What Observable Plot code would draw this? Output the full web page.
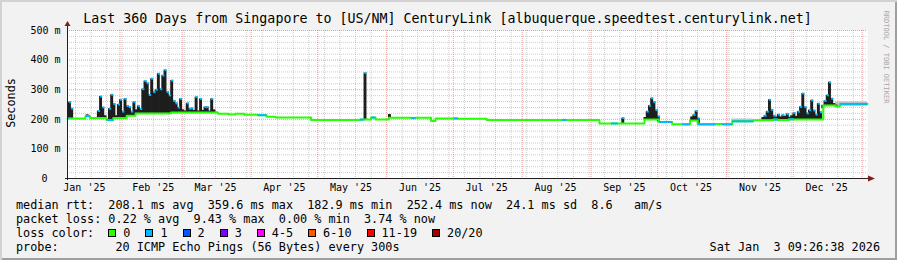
<!DOCTYPE html>
<html><head><meta charset="utf-8">
<script src="https://cdn.jsdelivr.net/npm/d3@7"></script>
<script src="https://cdn.jsdelivr.net/npm/@observablehq/plot@0.6"></script>
<style>
html,body{margin:0;padding:0;background:#f2f2f2;}
#wrap{position:relative;width:897px;height:260px;background:#f2f2f2;overflow:hidden;
  box-shadow: inset 2px 2px 0 #d2d2d2, inset -2px -2px 0 #9e9e9e;
  font-family:"DejaVu Sans Mono",monospace;color:#000;}
#chart{position:absolute;left:0;top:0;}
.txt{position:absolute;white-space:pre;font-size:11.8px;line-height:14px;}
#title{position:absolute;left:-1px;top:11px;width:897px;text-align:center;font-size:13.3px;line-height:16px;white-space:pre;}
#ylab{position:absolute;left:-39px;top:96px;width:100px;text-align:center;font-size:11.8px;line-height:14px;transform:rotate(-90deg);}
#wm{position:absolute;left:826px;top:53px;width:120px;text-align:center;font-size:7px;line-height:8px;color:#a8a8a8;transform:rotate(90deg);white-space:pre;}
.sw{display:inline-block;width:6px;height:6px;border:1px solid #000;margin-right:7px;vertical-align:baseline;}
.lb{margin-right:15px;}
</style></head>
<body>
<div id="wrap">
  <div id="chart"></div>
  <div id="title"></div>
  <div id="ylab">Seconds</div>
  <div id="wm">RRDTOOL / TOBI OETIKER</div>
  <div class="txt" id="l1" style="left:16px;top:198px"></div>
  <div class="txt" id="l2" style="left:16px;top:212px"></div>
  <div class="txt" id="l3" style="left:16px;top:226px"></div>
  <div class="txt" id="l4" style="left:16px;top:240px"></div>
  <div class="txt" id="l5" style="right:17px;top:240px"></div>
</div>
<script>
// ---------- data ----------
const titleText = "Last 360 Days from Singapore to [US/NM] CenturyLink [albuquerque.speedtest.centurylink.net]";
const rangeStart = "2025-01-08T09:26:38";
const rangeEnd = "2026-01-03T09:26:38";

const yTicks = [0, 100, 200, 300, 400, 500];
const yTickLabels = ["0", "100 m", "200 m", "300 m", "400 m", "500 m"];
const monthLabelDates = ["2025-01-16","2025-02-16","2025-03-16","2025-04-16","2025-05-16","2025-06-16","2025-07-16","2025-08-16","2025-09-16","2025-10-16","2025-11-16","2025-12-16"];
const monthLabels = ["Jan '25","Feb '25","Mar '25","Apr '25","May '25","Jun '25","Jul '25","Aug '25","Sep '25","Oct '25","Nov '25","Dec '25"];

const lossLabels = ["0","1","2","3","4-5","6-10","11-19","20/20"];
const lossColors = ["#26ff00","#00b8ff","#0059ff","#7e00ff","#ff00ff","#ff5500","#ff0000","#a10000"];

// median rtt, step segments (start, value in ms, loss class)
const medStart = ["2025-01-08T09:26","2025-01-09T00:00","2025-01-16T12:00","2025-01-18T12:00","2025-01-26T00:00","2025-01-29T00:00","2025-02-04T00:00","2025-02-08T00:00","2025-02-24T00:00","2025-03-17T00:00","2025-03-22T00:00","2025-03-25T00:00","2025-03-29T00:00","2025-04-04T00:00","2025-04-08T00:00","2025-04-12T00:00","2025-04-28T00:00","2025-05-20T00:00","2025-05-22T00:00","2025-05-25T00:00","2025-05-27T00:00","2025-06-02T00:00","2025-06-12T00:00","2025-06-14T00:00","2025-06-21T00:00","2025-06-23T00:00","2025-07-01T00:00","2025-07-03T00:00","2025-07-16T00:00","2025-08-19T00:00","2025-08-21T00:00","2025-09-04T18:00","2025-09-10T00:00","2025-09-13T00:00","2025-09-25T00:00","2025-10-01T12:00","2025-10-07T12:00","2025-10-12T00:00","2025-10-15T12:00","2025-10-19T00:00","2025-10-27T00:00","2025-10-30T00:00","2025-11-03T12:00","2025-11-13T00:00","2025-11-22T00:00","2025-11-24T00:00","2025-11-29T00:00","2025-12-01T00:00","2025-12-14T12:00","2025-12-20T00:00","2025-12-22T00:00"];
const medValue = [203,203,211,204,198,204,212,220,223,219,216,219,215,214,209,206,198,199,199,206,199,205,204,205,194,203,203,202,198,198,198,186,186,186,199,191,183,183,196,183,184,183,193,197,199,198,200,199,247,243,252];
const medLoss  = [1,0,1,0,1,0,0,0,0,0,0,0,0,1,0,0,0,1,0,1,0,0,1,0,0,0,1,0,0,1,0,0,1,0,0,1,0,1,0,1,0,1,1,0,1,0,1,0,0,0,1];

// daily smoke tops (ms)
const spikeDays = ["2025-01-09","2025-01-10","2025-01-17","2025-01-22","2025-01-23","2025-01-24","2025-01-25","2025-01-27","2025-01-28","2025-01-29","2025-01-30","2025-01-31",
 "2025-02-01","2025-02-02","2025-02-03","2025-02-04","2025-02-05","2025-02-06","2025-02-07","2025-02-08","2025-02-09","2025-02-10","2025-02-11","2025-02-12","2025-02-13","2025-02-14","2025-02-15","2025-02-16","2025-02-17","2025-02-18","2025-02-19","2025-02-20","2025-02-21","2025-02-22","2025-02-23","2025-02-24","2025-02-25","2025-02-26","2025-02-27","2025-02-28",
 "2025-03-01","2025-03-02","2025-03-03","2025-03-04","2025-03-05","2025-03-06","2025-03-07","2025-03-08","2025-03-09","2025-03-10","2025-03-11","2025-03-12","2025-03-13","2025-03-14","2025-03-15","2025-03-16",
 "2025-05-22","2025-06-02","2025-09-15",
 "2025-09-25","2025-09-26","2025-09-27","2025-09-28","2025-09-29","2025-09-30","2025-10-01",
 "2025-10-16","2025-10-17","2025-10-18","2025-10-19",
 "2025-11-17","2025-11-18","2025-11-19","2025-11-20","2025-11-21","2025-11-22","2025-11-23","2025-11-24","2025-11-25","2025-11-26","2025-11-27","2025-11-28","2025-11-29","2025-11-30",
 "2025-12-01","2025-12-02","2025-12-03","2025-12-04","2025-12-05","2025-12-06","2025-12-07","2025-12-08","2025-12-09","2025-12-10","2025-12-11","2025-12-12","2025-12-13","2025-12-14","2025-12-15","2025-12-16","2025-12-17","2025-12-18","2025-12-19","2025-12-20"];
const spikeTop = [258,236,215,228,277,240,212,236,283,252,212,250,
 266,226,269,245,241,226,258,232,245,235,302,329,322,282,337,292,300,354,302,348,366,292,281,331,262,254,240,269,
 232,228,254,236,237,230,275,228,269,230,241,241,228,269,232,224,
 356,216,204,
 206,226,246,271,258,231,210,
 208,215,228,203,
 206,212,226,266,232,212,208,216,208,214,210,218,207,212,
 221,210,226,242,287,241,220,231,264,230,216,253,224,236,262,281,325,270,253,248];

// light smoke bands
const greyStart = ["2025-11-03T12:00","2025-12-20T00:00"];
const greyEnd = ["2025-11-13T00:00","2026-01-03T09:26"];
const greyTop = [201, 259];

const medianStats = [208.1, 359.6, 182.9, 252.4];
const medianSd = 24.1, amPerS = 8.6;
const lossStats = [0.22, 9.43, 0.00, 3.74];
const probeText = "20 ICMP Echo Pings (56 Bytes) every 300s";
const stampText = "Sat Jan  3 09:26:38 2026";

// ---------- build ----------
const P = s => new Date(s.length === 10 ? s + "T00:00:00Z" : (s.length === 16 ? s + ":00Z" : s + "Z"));
const t0 = P(rangeStart), t1 = P(rangeEnd);

const segs = medStart.map((s, i) => ({start: P(s), end: i + 1 < medStart.length ? P(medStart[i + 1]) : t1, v: medValue[i], loss: medLoss[i]}));
const baseAt = t => { let v = segs[0].v; for (const s of segs) if (s.start <= t) v = s.v; return v; };
const medPts = segs.map(s => ({t: s.start, v: s.v})).concat([{t: t1, v: segs[segs.length - 1].v}]);
const spikes = spikeDays.map((s, i) => { const a = P(s); return {x1: a, x2: d3.utcDay.offset(a, 1), base: baseAt(d3.utcHour.offset(a, 12)), top: spikeTop[i]}; });
const greys = greyStart.map((s, i) => { const a = P(s); return {x1: a, x2: P(greyEnd[i]), base: baseAt(d3.utcHour.offset(a, 6)), top: greyTop[i]}; });

const monthStarts = d3.utcMonth.range(t0, t1);
const weekLines = d3.utcSunday.range(t0, t1).filter(d => d.getUTCDate() !== 1);
const yMinor = d3.range(0, 501, 20).filter(v => v % 100 !== 0);
const yMajor = yTicks.filter(v => v > 0);

function axes(index, scales, values, dim) {
  const g = d3.create("svg:g");
  const x0 = dim.marginLeft, yb = dim.height - dim.marginBottom, xr = dim.width - dim.marginRight, yt = dim.marginTop;
  g.append("line").attr("x1", x0 - 2).attr("x2", xr + 2).attr("y1", yb + 0.5).attr("y2", yb + 0.5).attr("stroke", "#1f1f1f");
  g.append("line").attr("x1", x0 + 0.5).attr("x2", x0 + 0.5).attr("y1", yb + 2).attr("y2", yt - 4).attr("stroke", "#1f1f1f");
  g.append("path").attr("d", `M${xr + 1},${yb - 2.5}L${xr + 8},${yb + 0.5}L${xr + 1},${yb + 3.5}Z`).attr("fill", "#7f1f1f");
  g.append("path").attr("d", `M${x0 - 2.5},${yt - 4}L${x0 + 0.5},${yt - 9}L${x0 + 3.5},${yt - 4}Z`).attr("fill", "#7f1f1f");
  return g.node();
}

const chart = Plot.plot({
  width: 897, height: 200,
  marginTop: 30, marginBottom: 22, marginLeft: 67, marginRight: 30,
  x: {type: "utc", domain: [t0, t1], axis: null},
  y: {domain: [0, 500], axis: null},
  color: {type: "identity"},
  style: {background: "transparent", fontFamily: "'DejaVu Sans Mono', monospace", fontSize: "10px", overflow: "visible", color: "#000"},
  marks: [
    Plot.frame({fill: "#ffffff", stroke: null}),
    Plot.ruleY(yMinor, {stroke: "#8f8f8f", strokeOpacity: 0.45, strokeDasharray: "1,1"}),
    Plot.ruleX(weekLines, {stroke: "#8f8f8f", strokeOpacity: 0.45, strokeDasharray: "1,1"}),
    Plot.ruleY(yMajor, {stroke: "#de4f4f", strokeOpacity: 0.55, strokeDasharray: "1,1"}),
    Plot.ruleX(monthStarts, {stroke: "#de4f4f", strokeOpacity: 0.55, strokeDasharray: "1,1"}),
    Plot.rectY(greys, {x1: "x1", x2: "x2", y1: "base", y2: "top", fill: "#c4c4c4", inset: 0}),
    Plot.rectY(spikes, {x1: "x1", x2: "x2", y1: "base", y2: "top", fill: "#1e1e1e", insetLeft: -0.35, insetRight: -0.35}),
    Plot.line(medPts, {x: "t", y: "v", curve: "step-after", stroke: lossColors[0], strokeWidth: 2}),
    Plot.link(segs.filter(s => s.loss > 0), {x1: "start", x2: "end", y1: "v", y2: "v", stroke: s => lossColors[s.loss], strokeWidth: 2}),
    Plot.link(spikes.filter(s => s.top - s.base > 12), {x1: "x1", x2: "x2", y1: "top", y2: "top", stroke: lossColors[1], strokeWidth: 2}),
    axes,
    Plot.text(yTicks.filter(v => v > 0), {x: () => t0, y: v => v, text: v => yTickLabels[yTicks.indexOf(v)], textAnchor: "end", dx: -7, fontSize: 10, fill: "#000"}),
    Plot.text([0], {x: () => t0, y: v => v, text: () => yTickLabels[0], textAnchor: "end", dx: -20, fontSize: 10, fill: "#000"}),
    Plot.text(monthLabels, {x: (d, i) => P(monthLabelDates[i]), y: () => 0, text: d => d, dy: 9.5, lineAnchor: "middle", textAnchor: "middle", fontSize: 10, fill: "#000"})
  ]
});
document.getElementById("chart").appendChild(chart);

document.getElementById("title").textContent = titleText;
const f1 = v => v.toFixed(1), f2 = v => v.toFixed(2);
document.getElementById("l1").textContent =
  `median rtt:  ${f1(medianStats[0])} ms avg  ${f1(medianStats[1])} ms max  ${f1(medianStats[2])} ms min  ${f1(medianStats[3])} ms now  ${f1(medianSd)} ms sd  ${f1(amPerS)}   am/s`;
document.getElementById("l2").textContent =
  `packet loss: ${f2(lossStats[0])} % avg  ${f2(lossStats[1])} % max  ${f2(lossStats[2])} % min  ${f2(lossStats[3])} % now`;
const l3 = document.getElementById("l3");
l3.appendChild(document.createTextNode("loss color:  "));
lossLabels.forEach((lab, i) => {
  const sw = document.createElement("span"); sw.className = "sw"; sw.style.background = lossColors[i];
  const lb = document.createElement("span"); lb.className = "lb"; lb.textContent = lab;
  l3.appendChild(sw); l3.appendChild(lb);
});
document.getElementById("l4").textContent = "probe:        " + probeText;
document.getElementById("l5").textContent = stampText;
</script>
</body></html>
